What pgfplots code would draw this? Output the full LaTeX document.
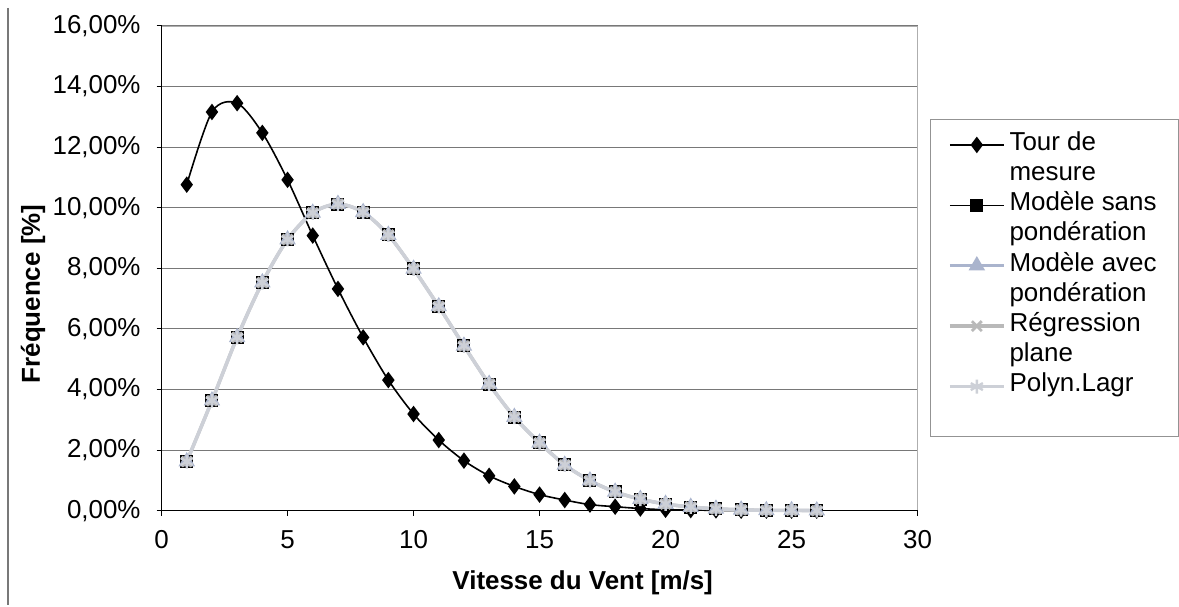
\documentclass[border=0pt]{standalone}
\usepackage{pgfplots}
\pgfplotsset{compat=1.18}
\usepackage{pgfplotstable}
\usepackage{fontspec}
\setmainfont{Liberation Sans}

\definecolor{gridgray}{RGB}{120,120,120}
\definecolor{avecblue}{RGB}{170,180,205}
\definecolor{regrgray}{RGB}{185,185,185}
\definecolor{lagrgray}{RGB}{205,208,215}

% x = vitesse [m/s], values in %
\pgfplotstableread{
x  tour   sans  avec  regr  lagr
1  10.76  1.62  1.62  1.62  1.62
2  13.16  3.63  3.63  3.63  3.63
3  13.45  5.72  5.72  5.72  5.72
4  12.47  7.53  7.53  7.53  7.53
5  10.92  8.95  8.95  8.95  8.95
6  9.08   9.83  9.83  9.83  9.83
7  7.32   10.12 10.12 10.12 10.12
8  5.72   9.85  9.85  9.85  9.85
9  4.31   9.10  9.10  9.10  9.10
10 3.19   7.98  7.98  7.98  7.98
11 2.33   6.74  6.74  6.74  6.74
12 1.65   5.44  5.44  5.44  5.44
13 1.15   4.18  4.18  4.18  4.18
14 0.80   3.09  3.09  3.09  3.09
15 0.53   2.24  2.24  2.24  2.24
16 0.35   1.51  1.51  1.51  1.51
17 0.20   0.99  0.99  0.99  0.99
18 0.13   0.62  0.62  0.62  0.62
19 0.07   0.38  0.38  0.38  0.38
20 0.03   0.22  0.22  0.22  0.22
21 0.02   0.12  0.12  0.12  0.12
22 0.01   0.06  0.06  0.06  0.06
23 0.00   0.03  0.03  0.03  0.03
24 0.00   0.01  0.01  0.01  0.01
25 0.00   0.01  0.01  0.01  0.01
26 0.00   0.00  0.00  0.00  0.00
}\data

\begin{document}
\begin{tikzpicture}
\begin{axis}[
    scale only axis,
    width=379pt, height=243pt,
    clip=false,
    xmin=0, xmax=30,
    ymin=0, ymax=16,
    xtick={0,5,...,30},
    ytick={0,2,...,16},
    ymajorgrids=true,
    grid style={gridgray, line width=0.5pt},
    axis line style={draw=gridgray!60},
    tick align=outside,
    xtick pos=left, ytick pos=left,
    major tick length=2.5pt,
    tick style={black, line width=0.5pt},
    font=\fontsize{13}{15}\selectfont,
    /pgf/number format/assume math mode=true,
    yticklabel={\pgfmathprintnumber[fixed,fixed zerofill,precision=2,use comma]{\tick}\%},
    yticklabel style={xshift=-4.5pt},
    xticklabel style={yshift=-4pt},
    xlabel={\textbf{Vitesse du Vent [m/s]}},
    ylabel={\textbf{Fréquence [\%]}},
    xlabel style={at={(axis description cs:0.557,-0.149)}, anchor=center},
    ylabel style={at={(axis description cs:-0.17,0.447)}, anchor=center},
    legend image code/.code={%
        \draw[mark repeat=2,mark phase=2] plot coordinates {(0pt,-9pt)(13.5pt,-9pt)(27pt,-9pt)};},
    legend style={
        at={(axis description cs:1.016,0.809)}, anchor=north west,
        draw=gridgray!80, line width=0.5pt,
        font=\fontsize{13}{15}\selectfont,
        cells={align=left, anchor=north west},
        row sep=0pt,
        inner xsep=9pt, inner ysep=4pt,
    },
]
% frame of the chart area
\path (axis description cs:-0.2137,-0.1955) rectangle (axis description cs:1.3417,1.0535);
\draw[gridgray, line width=0.6pt] (axis description cs:-0.203,1.037) -- (axis description cs:-0.203,-0.1955);
\draw[black, line width=0.6pt] (rel axis cs:0,1) -- (rel axis cs:0,0) -- (rel axis cs:1,0);

\addplot[black, line width=0.8pt, smooth, mark=diamond*, mark size=3.5pt,
    mark options={fill=black}] table[x=x, y=tour] {\data};
\addlegendentry{Tour de\\mesure}
\addplot[black, line width=0.5pt, smooth, mark=square*, mark size=3pt,
    mark options={fill=black}] table[x=x, y=sans] {\data};
\addlegendentry{Modèle sans\\pondération}
\addplot[avecblue, line width=1.2pt, smooth, mark=triangle*, mark size=3.6pt,
    mark options={fill=avecblue, draw=avecblue}] table[x=x, y=avec] {\data};
\addlegendentry{Modèle avec\\pondération}
\addplot[regrgray, line width=1.6pt, smooth, mark=x, mark size=3.5pt,
    mark options={line width=1.4pt}] table[x=x, y=regr] {\data};
\addlegendentry{Régression\\plane}
\addplot[lagrgray, line width=1.8pt, smooth, mark=asterisk, mark size=3.5pt,
    mark options={line width=1.2pt}] table[x=x, y=lagr] {\data};
\addlegendentry{Polyn.Lagr\\\mbox{}}
\end{axis}
\end{tikzpicture}
\end{document}
